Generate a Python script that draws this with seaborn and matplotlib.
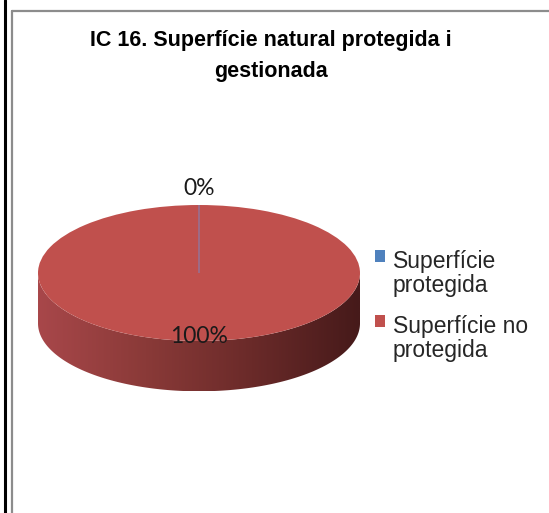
import textwrap
import numpy as np
import matplotlib
matplotlib.use("Agg")
import matplotlib.pyplot as plt
import seaborn as sns
from matplotlib.colors import LinearSegmentedColormap
from matplotlib.patches import Polygon
from matplotlib.lines import Line2D

# data
title = "IC 16. Superfície natural protegida i\ngestionada"
categories = ["Superfície protegida", "Superfície no protegida"]
values = [0, 100]
colors = ["#4f81bd", "#c0504d"]

sns.set_theme(style="white")
plt.rcParams["font.family"] = ["Liberation Sans", "DejaVu Sans"]

fig = plt.figure(figsize=(5.49, 5.13), dpi=100)
W, H = 549, 513

# frame lines like the screenshot
fig.add_artist(Line2D([4.5 / W, 4.5 / W], [0, 1], color="black", lw=2.2))
fig.add_artist(Line2D([11.5 / W, 11.5 / W], [0, 1 - 11 / H], color="#8c8c8c", lw=1.6))
fig.add_artist(Line2D([11.5 / W, 1], [1 - 11 / H, 1 - 11 / H], color="#8c8c8c", lw=1.6))

fig.text(271 / W, 1 - 30 / H, title, ha="center", va="top", fontsize=15.5,
         fontweight="bold", linespacing=1.6, color="black")

# pie axes: centre at (199, 273) px, rx=161 px, ry=68 px
xl, yl = (-1.05, 1.05), (-1.9, 1.5)
rx, ry = 161, 68
left = 199 - rx * 1.05
bottom = H - (273 + ry * 1.9)
ax = fig.add_axes([left / W, bottom / H, rx * 2.1 / W, ry * 3.4 / H])

wedges, texts, autotexts = ax.pie(
    values, colors=colors, startangle=90, counterclock=False,
    autopct="%1.0f%%", pctdistance=0.94,
    wedgeprops=dict(linewidth=0),
    textprops=dict(fontsize=16.5, color="#1a1a1a", family=["Lato", "DejaVu Sans"]),
)
ax.set_aspect("auto")
ax.set_xlim(*xl)
ax.set_ylim(*yl)

# zero slice shows as a thin edge line, its label sits outside
for w, t, v in zip(wedges, autotexts, values):
    if v == 0:
        w.set_edgecolor("#8a7aa8")
        w.set_linewidth(0.9)
        w.set_zorder(3)
        ang = np.deg2rad((w.theta1 + w.theta2) / 2)
        t.set_position((1.24 * np.cos(ang), 1.24 * np.sin(ang)))

# side wall of the 3D disc, shaded left to right
depth = 0.74
th = np.linspace(np.pi, 2 * np.pi, 200)
upper = np.column_stack([np.cos(th), np.sin(th)])
lower = np.column_stack([np.cos(th[::-1]), np.sin(th[::-1]) - depth])
side = Polygon(np.vstack([upper, lower]), closed=True, facecolor="none",
               edgecolor="none", transform=ax.transData)
ax.add_patch(side)
side_cmap = LinearSegmentedColormap.from_list(
    "side", ["#a8474a", "#8a3a38", "#6a2a29", "#461a1a"])
grad = np.linspace(0, 1, 256).reshape(1, -1)
img = ax.imshow(grad, cmap=side_cmap, extent=(-1, 1, -1 - depth, 0),
                aspect="auto", zorder=0.5)
img.set_clip_path(side)
ax.set_xlim(*xl)
ax.set_ylim(*yl)
ax.axis("off")

labels = [textwrap.fill(c, 13) for c in categories]
leg = fig.legend(wedges, labels, loc="upper left",
                 bbox_to_anchor=(375 / W, 1 - 250 / H), frameon=False,
                 fontsize=16.5, handlelength=0.42, handleheight=0.42,
                 handletextpad=0.35, labelspacing=0.78, borderpad=0,
                 borderaxespad=0)
for txt in leg.get_texts():
    txt.set_linespacing(1.05)
for col in leg._legend_handle_box.get_children():
    for row in col.get_children():
        row.align = "top"
for h in leg.legend_handles:
    h.set_edgecolor("none")
    h.set_linewidth(0)

fig.savefig("out.png", dpi=100)
